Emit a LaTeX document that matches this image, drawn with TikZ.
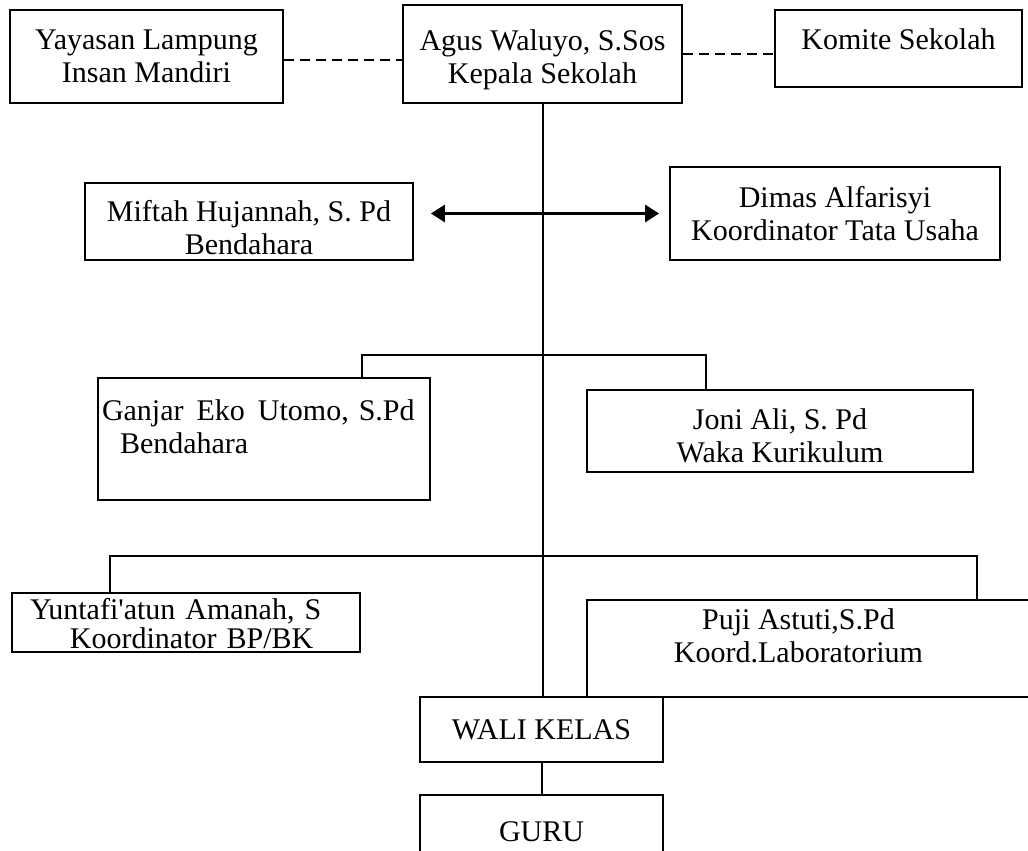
\documentclass[tikz,border=0pt]{standalone}
\usepackage{fontspec}
\setmainfont{Liberation Serif}
\usetikzlibrary{arrows.meta}

\tikzset{
  kotak/.style={draw, line width=0.9pt, rectangle, align=center, inner sep=1pt,
    font=\fontsize{15}{16.5}\selectfont},
  garis/.style={line width=0.8pt},
  putus/.style={line width=0.9pt, dash pattern=on 5pt off 3pt},
  panah/.style={line width=1.5pt, {Triangle[length=7pt,width=8.5pt]}-{Triangle[length=7pt,width=8.5pt]}},
}

\begin{document}
\begin{tikzpicture}[x=0.5pt,y=-0.5pt]
            \clip (0,0) rectangle (1028,851);

            %kepala
            \node[kotak, minimum width=136.5pt, minimum height=46.5pt] (yayasan) at (146.5,56.5) {Yayasan Lampung\\Insan Mandiri};

            \node[kotak, text height=33pt, minimum width=139.5pt, minimum height=49pt] (agus) at (542.5,54) {Agus Waluyo, S.Sos\\Kepala Sekolah};

            \node[kotak, text depth=9.5pt, minimum width=123.5pt, minimum height=38.5pt] (komite) at (898.5,48.5) {Komite Sekolah};

            \draw[putus] ([yshift=-1.75pt]yayasan.east) -- ([yshift=-1.75pt]yayasan.east -| agus.west);

            \draw[putus] (agus.east) -- (agus.east -| komite.west);

            %staf
            \node[kotak, text height=33pt, minimum width=164pt, minimum height=38.5pt] (miftah) at (249,221.5) {Miftah Hujannah, S. Pd\\Bendahara};

            \node[kotak, minimum width=165pt, minimum height=46.5pt] (dimas) at (835,213.5) {Dimas Alfarisyi\\Koordinator Tata Usaha};

            \draw[panah, shorten <=8.5pt, shorten >=5pt] (dimas.west -| miftah.east) -- (dimas.west);

            %waka
            \node[kotak, align=left, text width=162pt, inner xsep=2pt, text depth=29pt, minimum height=61pt] (ganjar) at (264,439) {Ganjar\hspace{1.5pt} Eko\hspace{1.5pt} Utomo, S.Pd\\\hspace*{9pt}Bendahara};

            \node[kotak, text height=32pt, minimum width=193pt, minimum height=41pt] (joni) at (780,431) {Joni Ali, S. Pd\\Waka Kurikulum};

            \draw[garis] ([xshift=49pt]ganjar.north) -- ++(0,-22) -| ([xshift=-37pt]joni.north);

            %koordinator
            \node[kotak, align=left, font=\fontsize{15}{14.5}\selectfont, text width=156pt, inner xsep=9pt, inner ysep=0pt, text depth=14pt, minimum height=29.5pt] (yuntafi) at (186,622.5) {Yuntafi\textquotesingle atun Amanah, S\\\hspace*{20pt}Koordinator BP/BK};

            \node[kotak, text depth=13pt, minimum width=226.5pt, minimum height=48.5pt] (puji) at (813.5,648.5) {Puji Astuti,S.Pd\hspace*{15pt}\\Koord.Laboratorium\hspace*{15pt}};

            \draw[garis] ([xshift=-38pt]yuntafi.north) -- ++(0,-36) -| ([xshift=81.75pt]puji.north);

            %bawah
            \node[kotak, minimum width=121.5pt, minimum height=32.5pt] (wali) at (541.5,729.5) {WALI KELAS};

            \node[kotak, minimum width=121.5pt, minimum height=37pt] (guru) at (541.5,832) {GURU};

            \draw[garis, line width=1pt] (agus.south) -- (agus.south |- wali.north);

            \draw[garis, line width=1pt] (wali.south) -- (guru.north);
\end{tikzpicture}
\end{document}
